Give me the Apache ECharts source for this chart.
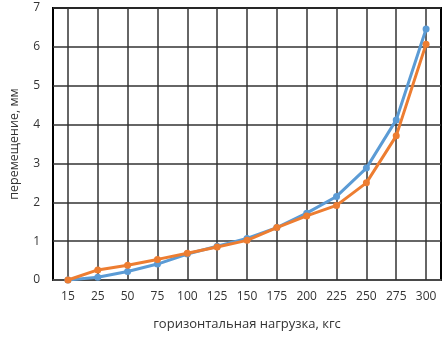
<!DOCTYPE html>
<html><head><meta charset="utf-8">
<script src="https://cdn.jsdelivr.net/npm/echarts@6/dist/echarts.min.js"></script>
<style>html,body{margin:0;padding:0;background:#fff}#c{width:447px;height:337px}</style>
</head><body><div id="c"></div>
<script>
const categories = ['15','25','50','75','100','125','150','175','200','225','250','275','300'];
const seriesBlue = [0, 0.07, 0.22, 0.41, 0.67, 0.87, 1.07, 1.35, 1.72, 2.15, 2.88, 4.12, 6.46];
const seriesOrange = [0, 0.26, 0.38, 0.53, 0.69, 0.85, 1.02, 1.35, 1.65, 1.92, 2.50, 3.71, 6.07];
const yTicks = [0,1,2,3,4,5,6,7];
const chart = echarts.init(document.getElementById('c'));
const font = 'Open Sans, Noto Sans, sans-serif';
chart.setOption({
  animation: false,
  grid: {left: 47, right: 6, top: 8, bottom: 57, show: true, borderColor: '#000', borderWidth: 2},
  xAxis: {
    type: 'category', data: categories, boundaryGap: true,
    axisLine: {lineStyle: {color: '#555', width: 1.5}},
    axisTick: {show: false},
    axisLabel: {color: '#333', fontSize: 12, fontFamily: font, margin: 11},
    splitLine: {show: false},
    name: 'горизонтальная нагрузка, кгс', nameLocation: 'middle', nameGap: 38,
    nameTextStyle: {color: '#333', fontSize: 13, fontFamily: font}
  },
  yAxis: {
    type: 'value', min: yTicks[0], max: yTicks[yTicks.length-1], interval: 1,
    axisLine: {show: false}, axisTick: {show: false},
    axisLabel: {color: '#333', fontSize: 12, fontFamily: font, margin: 13},
    splitLine: {lineStyle: {color: '#333', width: 1.5}},
    name: 'перемещение, мм', nameLocation: 'middle', nameGap: 32,
    nameTextStyle: {color: '#333', fontSize: 12.5, fontFamily: font}
  },
  series: [
    {type: 'line', data: seriesBlue, symbol: 'circle', symbolSize: 7,
     itemStyle: {color: '#5B9BD5'}, lineStyle: {width: 3, color: '#5B9BD5'}, z: 3,
     markLine: {silent: true, symbol: 'none', label: {show: false}, z: 1,
       lineStyle: {color: '#333', width: 1.5, type: 'solid'},
       data: categories.map(c => ({xAxis: c}))}},
    {type: 'line', data: seriesOrange, symbol: 'circle', symbolSize: 7,
     itemStyle: {color: '#ED7D31'}, lineStyle: {width: 3, color: '#ED7D31'}, z: 4}
  ]
});
</script></body></html>
